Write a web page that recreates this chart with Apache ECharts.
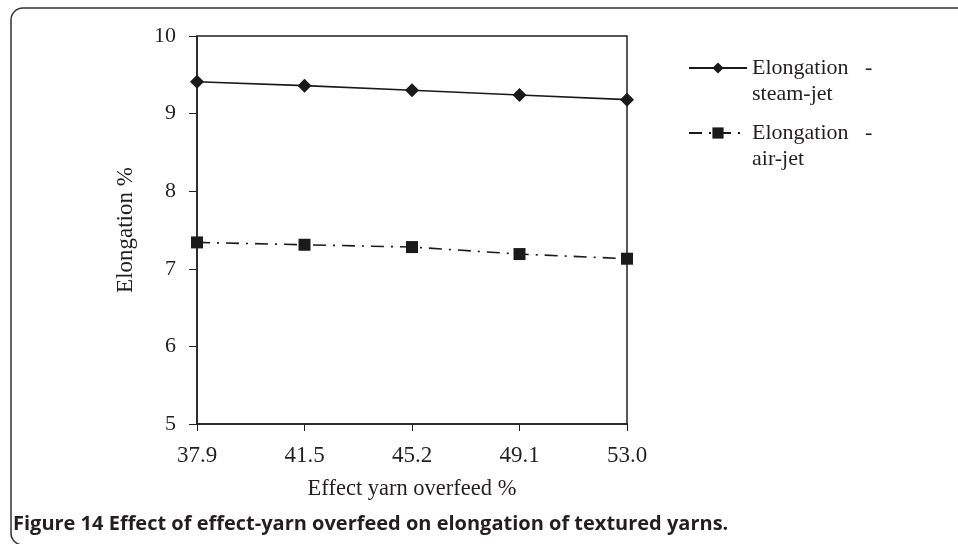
<!DOCTYPE html>
<html>
<head>
<meta charset="utf-8">
<script src="https://cdn.jsdelivr.net/npm/echarts@6/dist/echarts.min.js"></script>
<style>
html,body{margin:0;padding:0;background:#fff;}
#chart{width:958px;height:544px;}
</style>
</head>
<body>
<div id="chart"></div>
<script>
const categories = ['37.9', '41.5', '45.2', '49.1', '53.0'];
const steamJet = [9.41, 9.36, 9.30, 9.24, 9.18];
const airJet = [7.34, 7.31, 7.28, 7.19, 7.13];
const yTicks = { min: 5, max: 10, interval: 1 };

const serif = '"Liberation Serif", "Times New Roman", serif';
const ink = '#231f20';

const chart = echarts.init(document.getElementById('chart'), null, { renderer: 'canvas' });
chart.setOption({
  backgroundColor: '#fff',
  animation: false,
  title: {
    text: 'Figure 14 Effect of effect-yarn overfeed on elongation of textured yarns.',
    left: 8, top: 509,
    textStyle: { fontFamily: '"Open Sans", sans-serif', fontWeight: 'bold', fontSize: 20, color: ink }
  },
  graphic: [{
    type: 'rect', silent: true,
    shape: { x: 11, y: 8, width: 990, height: 537, r: 12 },
    style: { fill: 'none', stroke: '#333', lineWidth: 1.5 }
  }],
  legend: [{
    data: ['Elongation - steam-jet'],
    orient: 'vertical', left: 683, top: 24,
    itemWidth: 58, itemHeight: 14, itemGap: 0,
    formatter: () => '\nElongation   -\nsteam-jet',
    textStyle: { fontFamily: serif, fontSize: 22, color: ink, lineHeight: 26 }
  }, {
    data: ['Elongation - air-jet'],
    orient: 'vertical', left: 683, top: 89,
    itemWidth: 58, itemHeight: 14, itemGap: 0,
    formatter: () => '\nElongation   -\nair-jet',
    textStyle: { fontFamily: serif, fontSize: 22, color: ink, lineHeight: 26 }
  }],
  grid: {
    left: 197, right: 331, top: 36, bottom: 120,
    show: true, borderColor: ink, borderWidth: 1.5, backgroundColor: 'transparent'
  },
  xAxis: {
    type: 'category', data: categories, boundaryGap: false,
    name: 'Effect yarn overfeed %', nameLocation: 'middle', nameGap: 54,
    nameTextStyle: { fontFamily: serif, fontSize: 22.5, color: ink },
    axisLine: { lineStyle: { color: ink, width: 1.5 } },
    axisTick: { show: true, length: 7, inside: false, lineStyle: { color: ink, width: 1 } },
    axisLabel: { fontFamily: serif, fontSize: 23, color: ink, margin: 20, interval: 0 },
    splitLine: { show: false }
  },
  yAxis: {
    type: 'value', min: yTicks.min, max: yTicks.max, interval: yTicks.interval,
    name: 'Elongation %', nameLocation: 'middle', nameGap: 60,
    nameTextStyle: { fontFamily: serif, fontSize: 23, color: ink },
    axisLine: { show: true, lineStyle: { color: ink, width: 1.5 } },
    axisTick: { show: true, length: 8, inside: false, lineStyle: { color: ink, width: 1 } },
    axisLabel: { fontFamily: serif, fontSize: 22, color: ink, margin: 21 },
    splitLine: { show: false }
  },
  series: [{
    name: 'Elongation - steam-jet', type: 'line', data: steamJet,
    symbol: 'diamond', symbolSize: 14, showAllSymbol: true,
    itemStyle: { color: '#1a1a1a' },
    lineStyle: { color: '#1a1a1a', width: 1.6, type: 'solid' }
  }, {
    name: 'Elongation - air-jet', type: 'line', data: airJet,
    symbol: 'rect', symbolSize: 12, showAllSymbol: true,
    itemStyle: { color: '#1a1a1a' },
    lineStyle: { color: '#1a1a1a', width: 1.6, type: [13, 7, 2, 7] }
  }]
});
</script>
</body>
</html>
